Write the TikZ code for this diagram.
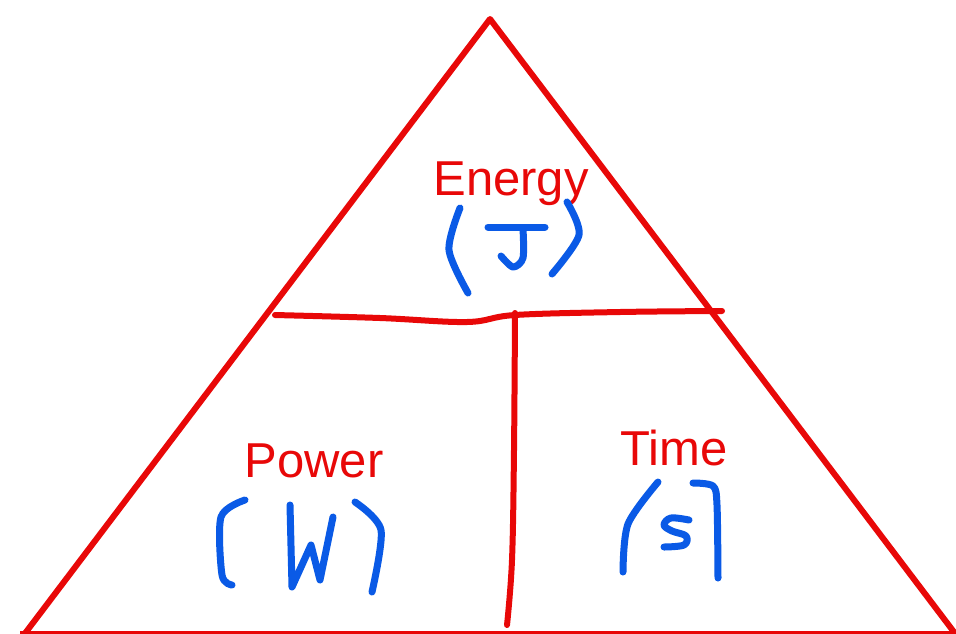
\documentclass[tikz,border=0pt]{standalone}
\usepackage{fontspec}
\setmainfont{Liberation Sans}
\definecolor{pen}{RGB}{232,8,8}
\definecolor{ink}{RGB}{10,90,230}
\begin{document}
\begin{tikzpicture}[x=1pt,y=-1pt,
  redline/.style={draw=pen,line width=6pt,line cap=round,line join=round},
  blueline/.style={draw=ink,line width=7pt,line cap=round,line join=round},
  lbl/.style={text=pen,anchor=base,inner sep=0pt,font=\fontsize{49}{52}\selectfont}]
\useasboundingbox (0,0) rectangle (956,633);
\fill[white] (0,0) rectangle (956,633);
% triangle
\draw[redline] (20,640) -- (490,19) -- (960,640);
\draw[draw=pen,line width=3pt] (20,632) -- (956,632);
% horizontal divider
\draw[redline] plot[smooth,tension=0.6] coordinates {(275,315) (380,318) (467,322) (515,315) (620,312) (722,311)};
% vertical divider
\draw[redline] plot[smooth,tension=0.6] coordinates {(515,313) (514,450) (512,560) (507,625)};
% labels
\node[lbl] (energy) at (511,195) {Energy};
\node[lbl] (power) at (314,477) {Power};
\node[lbl] (time) at (674,465) {Time};
% (J)
\draw[blueline] plot[smooth] coordinates {(460,208) (449,250) (468,293)};
\draw[blueline] (488,227) -- (545,227);
\draw[blueline] plot[smooth] coordinates {(523,229) (523,258) (513,267) (501,256)};
\draw[blueline] plot[smooth] coordinates {(567,202) (579,235) (552,274)};
% (W)
\draw[blueline] plot[smooth] coordinates {(245,500) (221,517) (222,575) (232,585)};
\draw[blueline] (290,505) -- (292,587) -- (311,545) -- (320,580) -- (333,517);
\draw[blueline] plot[smooth] coordinates {(355,502) (381,530) (372,592)};
% (s]
\draw[blueline] plot[smooth] coordinates {(658,482) (628,524) (623,572)};
\draw[blueline] plot[smooth,tension=0.6] coordinates {(689,520) (671,518) (664,525) (672,531) (686,536) (684,545) (664,547)};
\draw[blueline] plot[smooth] coordinates {(693,483) (713,486) (717,505) (718,578)};
\end{tikzpicture}
\end{document}
